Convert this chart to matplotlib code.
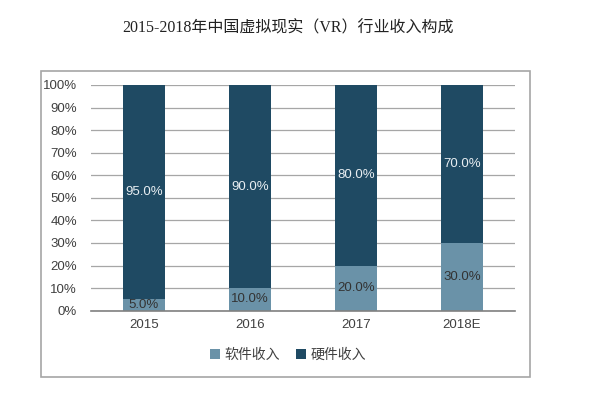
import matplotlib.pyplot as plt
from matplotlib.patches import Rectangle
import numpy as np

plt.rcParams['font.family'] = ['Liberation Sans', 'Noto Sans CJK SC']

# Data
years = ["2015", "2016", "2017", "2018E"]
software = [5.0, 10.0, 20.0, 30.0]
hardware = [95.0, 90.0, 80.0, 70.0]
series_names = ["软件收入", "硬件收入"]

c_soft = "#6a92a8"
c_hard = "#1f4a63"

W, H = 600, 398
fig = plt.figure(figsize=(W / 100, H / 100), dpi=100)

# outer frame
fig.patches.append(Rectangle((41 / W, 1 - 377 / H), (530 - 41) / W, (377 - 71) / H,
                             transform=fig.transFigure, fill=False,
                             edgecolor="#a6a6a6", lw=1.2))

fig.text(288 / W, 1 - 28 / H, "2015-2018年中国虚拟现实（VR）行业收入构成",
         ha="center", va="center", fontsize=11.5, color="#222222",
         family=['Liberation Serif', 'Noto Sans CJK SC'])

ax = fig.add_axes([91 / W, 1 - 310.7 / H, 424 / W, (310.7 - 85) / H])
x = np.arange(len(years))
b1 = ax.bar(x, software, width=0.4, color=c_soft, label=series_names[0], zorder=3)
b2 = ax.bar(x, hardware, width=0.4, bottom=software, color=c_hard,
            label=series_names[1], zorder=3)

for i in range(len(years)):
    ax.text(x[i], software[i] / 2, f"{software[i]:.1f}%", ha="center", va="center",
            fontsize=9.5, color="#333333", zorder=4)
    ax.text(x[i], software[i] + hardware[i] / 2, f"{hardware[i]:.1f}%", ha="center",
            va="center", fontsize=9.5, color="#e8eef2", zorder=4)

ax.set_xlim(-0.5, len(years) - 0.5)
ax.set_ylim(0, 100)
ax.set_yticks(np.arange(0, 101, 10))
ax.set_yticklabels([f"{v}%" for v in range(0, 101, 10)])
ax.set_xticks(x)
ax.set_xticklabels(years)
ax.tick_params(length=0, labelsize=9.5, labelcolor="#404040")
ax.tick_params(axis="y", pad=10)
ax.tick_params(axis="x", pad=6)
ax.grid(axis="y", color="#a6a6a6", lw=0.9, zorder=0)
for s in ["top", "right", "left"]:
    ax.spines[s].set_visible(False)
ax.spines["bottom"].set_color("#808080")
ax.spines["bottom"].set_linewidth(1.2)
ax.spines["bottom"].set_zorder(5)

fig.legend(handles=[b1, b2], labels=series_names, loc="center",
           bbox_to_anchor=(288 / W, 1 - 355 / H), ncol=2, frameon=False,
           fontsize=10, handlelength=0.7, handleheight=0.7, handletextpad=0.3,
           columnspacing=1.2, labelcolor="#404040")

fig.savefig("out.png", dpi=100, facecolor="white")
